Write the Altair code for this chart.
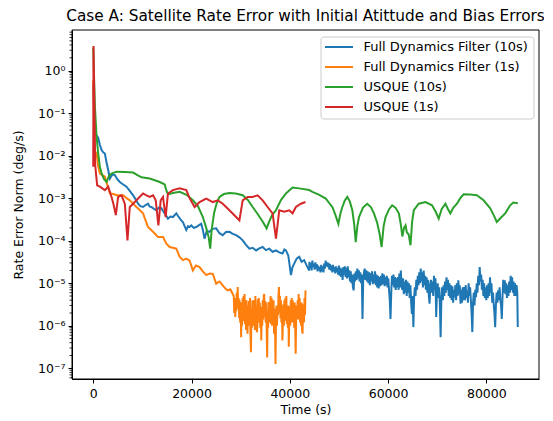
import altair as alt
import pandas as pd

TITLE = "Case A: Satellite Rate Error with Initial Atittude and Bias Errors"
X_LABEL = "Time (s)"
Y_LABEL = "Rate Error Norm (deg/s)"
SERIES = ["Full Dynamics Filter (10s)", "Full Dynamics Filter (1s)", "USQUE (10s)", "USQUE (1s)"]
COLORS = ["#1f77b4", "#ff7f0e", "#2ca02c", "#d62728"]

X_TICKS = [0, 20000, 40000, 60000, 80000]
Y_TICKS = [1e-7, 1e-6, 1e-5, 1e-4, 1e-3, 1e-2, 1e-1, 1e0]
Y_TICK_LABELS = ["10⁻⁷", "10⁻⁶", "10⁻⁵", "10⁻⁴", "10⁻³", "10⁻²", "10⁻¹", "10⁰"]
Y_MINOR_MULT = [2, 3, 4, 5, 6, 7, 8, 9]
Y_MINOR_DECADES = [1e-8, 1e-7, 1e-6, 1e-5, 1e-4, 1e-3, 1e-2, 1e-1, 1e0]

# ---- Full Dynamics Filter (10s) ----
fdf10_t = [0, 345, 700, 1014, 1350, 1700, 2030, 2370, 2700, 3040, 3390, 3900, 4400, 4900, 5410,
           6100, 6770, 7400, 8110, 8600, 9130, 9600, 10140, 10600, 11150, 11500, 11840, 12350,
           12860, 13370, 13870, 14200, 14540, 14900, 15210, 15700, 16220, 16910, 17250, 17580,
           17900, 18250, 18600, 18940, 19300, 19610, 19960, 20450, 20970, 21450, 21980, 22300,
           22650, 23100, 23670, 24300, 25020, 25700, 26360, 27000, 27720, 28400, 29080, 29750,
           30420, 31100, 31780, 32450, 33140, 33800, 34480, 35150, 35830, 36500, 37190, 37860,
           38530, 38900, 39220, 39700, 40240, 40560, 40900, 41400, 41920, 42400, 42930, 43450,
           43950,
           44000, 44150, 44300, 44450, 44600, 44750, 44900, 45050, 45200, 45350,
           45500, 45650, 45800, 45950, 46100, 46250, 46400, 46550, 46700, 46850,
           47000, 47150, 47300, 47450, 47600, 47750, 47900, 48050, 48200, 48350,
           48500, 48650, 48800, 48950, 49100, 49250, 49400, 49550, 49700, 49850,
           50000, 50150, 50300, 50450, 50600, 50750, 50900, 51050, 51200, 51350,
           51500, 51650, 51800, 51950, 52100, 52250, 52400, 52550, 52700, 52850,
           53000, 53150, 53300, 53450, 53600, 53750, 53900, 54050, 54200, 54350,
           54500, 54650, 54800, 54950, 55100, 55250, 55400, 55550, 55700, 55850,
           56000, 56150, 56300, 56450, 56600, 56750, 56900, 57050, 57200, 57350,
           57500, 57650, 57800, 57950, 58100, 58250, 58400, 58550, 58700, 58850,
           59000, 59150, 59300, 59450, 59600, 59750, 59900, 60050, 60200, 60350,
           60500, 60650, 60800, 60950, 61100, 61250, 61400, 61550, 61700, 61850,
           62000, 62150, 62300, 62450, 62600, 62750, 62900, 63050, 63200, 63350,
           63500, 63650, 63800, 63950, 64100, 64250, 64400, 64550, 64700, 64850,
           65000, 65150, 65300, 65450, 65600, 65750, 65900, 66050, 66200, 66350,
           66500, 66650, 66800, 66950, 67100, 67250, 67400, 67550, 67700, 67850,
           68000, 68150, 68300, 68450, 68600, 68750, 68900, 69050, 69200, 69350,
           69500, 69650, 69800, 69950, 70100, 70250, 70400, 70550, 70700, 70850,
           71000, 71150, 71300, 71450, 71600, 71750, 71900, 72050, 72200, 72350,
           72500, 72650, 72800, 72950, 73100, 73250, 73400, 73550, 73700, 73850,
           74000, 74150, 74300, 74450, 74600, 74750, 74900, 75050, 75200, 75350,
           75500, 75650, 75800, 75950, 76100, 76250, 76400, 76550, 76700, 76850,
           77000, 77150, 77300, 77450, 77600, 77750, 77900, 78050, 78200, 78350,
           78500, 78650, 78800, 78950, 79100, 79250, 79400, 79550, 79700, 79850,
           80000, 80150, 80300, 80450, 80600, 80750, 80900, 81050, 81200, 81350,
           81500, 81650, 81800, 81950, 82100, 82250, 82400, 82550, 82700, 82850,
           83000, 83150, 83300, 83450, 83600, 83750, 83900, 84050, 84200, 84350,
           84500, 84650, 84800, 84950, 85100, 85250, 85400, 85550, 85700, 85850,
           86000, 86150, 86300, 86400]
fdf10_v = [0.5, 0.033, 0.030, 0.026, 0.018, 0.0135, 0.012, 0.0112, 7.0e-3, 4.6e-3, 2.9e-3, 3.6e-3,
           3.5e-3, 2.8e-3, 2.4e-3, 2.1e-3, 1.86e-3, 1.5e-3, 1.17e-3, 9.5e-4, 7.4e-4, 6.5e-4, 6.2e-4,
           6.8e-4, 7.4e-4, 6.3e-4, 6.2e-4, 5.6e-4, 5.2e-4, 6.0e-4, 5.8e-4, 5.0e-4, 4.4e-4, 3.8e-4,
           3.3e-4, 3.7e-4, 3.6e-4, 4.4e-4, 3.8e-4, 3.4e-4, 3.0e-4, 2.75e-4, 2.2e-4, 1.78e-4, 2.2e-4,
           2.1e-4, 2.3e-4, 2.0e-4, 2.1e-4, 2.3e-4, 2.5e-4, 1.8e-4, 1.12e-4, 1.7e-4, 1.62e-4, 1.9e-4,
           1.95e-4, 1.5e-4, 1.35e-4, 1.6e-4, 1.62e-4, 1.45e-4, 1.35e-4, 1.2e-4, 1.02e-4, 8.0e-5,
           6.5e-5, 6.8e-5, 5.9e-5, 6.6e-5, 7.1e-5, 6.0e-5, 6.5e-5, 5.5e-5, 5.9e-5, 5.3e-5, 5.0e-5,
           6.2e-5, 5.9e-5, 4.5e-5, 1.55e-5, 2.4e-5, 2.9e-5, 3.8e-5, 4.2e-5, 3.2e-5, 3.5e-5, 2.6e-5,
           2.0e-5,
           3.2e-5, 2.3e-5, 3.0e-5, 2.0e-5, 3.4e-5, 2.4e-5, 2.9e-5, 2.1e-5, 3.1e-5, 2.2e-5,
           2.8e-5, 1.9e-5, 2.6e-5, 2.0e-5, 2.4e-5, 1.8e-5, 2.7e-5, 1.9e-5, 2.5e-5, 1.8e-5,
           2.9e-5, 2.2e-5, 3.4e-5, 2.5e-5, 3.1e-5, 2.4e-5, 3.0e-5, 2.1e-5, 2.8e-5, 2.0e-5,
           2.6e-5, 1.8e-5, 2.7e-5, 1.9e-5, 2.4e-5, 1.7e-5, 2.5e-5, 1.8e-5, 2.3e-5, 1.6e-5,
           2.6e-5, 1.5e-5, 2.3e-5, 1.4e-5, 2.2e-5, 1.2e-5, 2.4e-5, 1.6e-5, 2.5e-5, 1.4e-5,
           2.3e-5, 1.3e-5, 2.5e-5, 1.4e-5, 2.0e-5, 1.1e-5, 1.9e-5, 1.0e-5, 1.6e-5, 8.0e-6,
           6.8e-6, 1.7e-5, 1.1e-5, 1.9e-5, 1.2e-5, 2.2e-5, 1.3e-5, 2.0e-5, 1.1e-5, 1.8e-5,
           1.0e-5, 1.6e-5, 1.45e-6, 1.2e-5, 1.8e-5, 2.2e-5, 1.2e-5, 2.0e-5, 1.1e-5, 1.9e-5,
           1.0e-5, 1.8e-5, 9.0e-6, 1.7e-5, 1.1e-5, 1.9e-5, 9.5e-6, 1.6e-5, 1.0e-5, 1.9e-5,
           9.0e-6, 1.6e-5, 8.0e-6, 1.5e-5, 7.5e-6, 1.4e-5, 8.5e-6, 1.5e-5, 9.0e-6, 1.7e-5,
           9.5e-6, 1.6e-5, 8.5e-6, 1.4e-5, 9.0e-6, 1.5e-5, 8.0e-6, 1.3e-5, 7.0e-6, 4.0e-6,
           1.45e-6, 6.0e-6, 1.5e-5, 9.0e-6, 1.6e-5, 8.0e-6, 1.4e-5, 7.0e-6, 1.3e-5, 8.0e-6,
           1.4e-5, 7.0e-6, 1.7e-5, 8.0e-6, 2.0e-5, 9.0e-6, 7.0e-6, 1.3e-5, 5.5e-6, 1.1e-5,
           6.0e-6, 1.2e-5, 5.0e-6, 1.1e-5, 6.0e-6, 1.0e-5, 4.5e-6, 9.0e-6, 3.5e-6, 1.9e-6,
           5.0e-6, 9.3e-7, 4.5e-6, 8.0e-6, 5.0e-6, 1.2e-5, 7.0e-6, 1.5e-5, 9.0e-6, 1.8e-5,
           1.0e-5, 2.2e-5, 1.1e-5, 1.8e-5, 8.0e-6, 2.0e-5, 9.0e-6, 1.5e-5, 7.0e-6, 1.38e-5,
           6.0e-6, 1.2e-5, 5.0e-6, 3.3e-6, 9.0e-6, 1.2e-5, 6.0e-6, 1.1e-5, 5.0e-6, 1.5e-5,
           7.0e-6, 1.3e-5, 1.6e-6, 6.0e-6, 1.0e-5, 4.5e-6, 8.0e-6, 3.0e-6, 5.4e-7, 4.0e-6,
           8.0e-6, 4.0e-6, 9.0e-6, 5.0e-6, 1.1e-5, 6.0e-6, 1.38e-5, 7.0e-6, 1.2e-5, 5.0e-6,
           1.0e-5, 4.5e-6, 9.0e-6, 4.0e-6, 8.5e-6, 3.5e-6, 7.0e-6, 4.7e-6, 9.0e-6, 4.0e-6,
           1.0e-5, 5.0e-6, 1.17e-5, 5.5e-6, 9.0e-6, 3.3e-6, 7.0e-6, 3.5e-6, 8.0e-6, 4.0e-6,
           8.1e-6, 4.0e-6, 9.0e-6, 4.5e-6, 6.8e-6, 3.5e-6, 1.0e-5, 5.0e-6, 8.0e-6, 4.0e-6,
           2.0e-6, 7.1e-7, 3.5e-6, 6.0e-6, 3.0e-6, 7.0e-6, 4.7e-6, 1.0e-5, 6.0e-6, 1.5e-5,
           9.0e-6, 2.4e-5, 1.1e-5, 1.6e-5, 7.0e-6, 1.2e-5, 5.0e-6, 1.0e-5, 4.5e-6, 8.0e-6,
           4.0e-6, 9.0e-6, 4.5e-6, 1.0e-5, 5.0e-6, 1.38e-5, 6.0e-6, 1.0e-5, 3.5e-6, 6.0e-6,
           3.3e-6, 2.0e-6, 9.3e-7, 3.0e-6, 6.0e-6, 3.5e-6, 6.8e-6, 4.0e-6, 8.0e-6, 4.0e-6,
           3.0e-6, 1.45e-6, 5.0e-6, 1.2e-5, 6.0e-6, 1.17e-5, 5.5e-6, 1.0e-5, 4.5e-6, 8.9e-6,
           5.0e-6, 1.1e-5, 6.0e-6, 1.5e-5, 7.0e-6, 1.38e-5, 6.0e-6, 1.1e-5, 5.0e-6, 1.0e-5,
           5.0e-6, 9.0e-6, 6.0e-6, 9.3e-7]

# ---- Full Dynamics Filter (1s) ----
fdf1_t = [0, 300, 700, 1014, 1360, 2370, 2900, 3390, 4100, 4750, 6080, 6800, 7440, 8100, 8800,
          9500, 10140, 10650, 11150, 12170, 12700, 13180, 14200, 14890, 15550, 16200, 16910, 17580,
          18250, 18940, 19610, 20280, 20900, 21640, 22300, 23000, 23700, 24340, 25020, 25700, 26360,
          26900, 27380, 27900, 28390,
          28600, 28700, 28800, 28900, 29000, 29100, 29200, 29300, 29400, 29500,
          29600, 29700, 29800, 29900, 30000, 30100, 30200, 30300, 30400, 30500,
          30600, 30700, 30800, 30900, 31000, 31100, 31200, 31300, 31400, 31500,
          31600, 31700, 31800, 31900, 32000, 32100, 32200, 32300, 32400, 32500,
          32600, 32700, 32800, 32900, 33000, 33100, 33200, 33300, 33400, 33500,
          33600, 33700, 33800, 33900, 34000, 34100, 34200, 34300, 34400, 34500,
          34600, 34700, 34800, 34900, 35000, 35100, 35200, 35300, 35400, 35500,
          35600, 35700, 35800, 35900, 36000, 36100, 36200, 36300, 36400, 36500,
          36600, 36700, 36800, 36900, 37000, 37100, 37200, 37300, 37400, 37500,
          37600, 37700, 37800, 37900, 38000, 38100, 38200, 38300, 38400, 38500,
          38600, 38700, 38800, 38900, 39000, 39100, 39200, 39300, 39400, 39500,
          39600, 39700, 39800, 39900, 40000, 40100, 40200, 40300, 40400, 40500,
          40600, 40700, 40800, 40900, 41000, 41100, 41200, 41300, 41400, 41500,
          41600, 41700, 41800, 41900, 42000, 42100, 42200, 42300, 42400, 42500,
          42600, 42700, 42800, 42900, 43000, 43100, 43200]
fdf1_v = [0.6, 0.013, 0.011, 5.5e-3, 3.8e-3, 3.2e-3, 2.0e-3, 1.29e-3, 1.25e-3, 1.17e-3, 1.17e-3,
          1.0e-3, 8.9e-4, 7.5e-4, 6.2e-4, 5.2e-4, 4.4e-4, 3.0e-4, 2.1e-4, 1.62e-4, 1.4e-4, 1.23e-4,
          1.23e-4, 8.5e-5, 7.1e-5, 6.8e-5, 6.5e-5, 4.2e-5, 3.5e-5, 3.8e-5, 3.4e-5, 2.0e-5, 2.6e-5,
          2.4e-5, 1.9e-5, 1.55e-5, 1.7e-5, 1.66e-5, 9.8e-6, 1.1e-5, 8.9e-6, 7.5e-6, 6.8e-6, 7.2e-6,
          5.6e-6,
          5.0e-6, 2.0e-6, 4.5e-6, 1.6e-6, 3.5e-6, 2.2e-6, 6.0e-6, 2.5e-6, 8.1e-6, 3.0e-6,
          4.5e-6, 1.5e-6, 4.0e-6, 1.2e-6, 3.0e-6, 5.4e-7, 3.5e-6, 1.0e-6, 4.5e-6, 1.5e-6,
          5.0e-6, 1.3e-6, 5.6e-6, 1.1e-6, 3.2e-6, 8.0e-7, 4.0e-6, 1.5e-6, 6.5e-7, 3.0e-6,
          1.0e-6, 3.8e-6, 1.1e-6, 4.5e-6, 6.0e-7, 2.4e-7, 2.5e-6, 9.0e-7, 4.0e-6, 1.0e-6,
          3.5e-6, 1.2e-6, 4.0e-6, 8.0e-7, 5.0e-6, 1.5e-6, 3.0e-6, 7.0e-7, 9.3e-7, 4.2e-6,
          1.3e-6, 4.5e-6, 1.2e-6, 3.5e-6, 9.0e-7, 2.8e-6, 4.5e-7, 2.8e-6, 1.0e-6, 4.0e-6,
          1.4e-6, 5.0e-6, 5.6e-6, 1.6e-6, 3.8e-6, 1.2e-6, 3.5e-6, 8.0e-7, 1.8e-7, 2.2e-6,
          9.0e-7, 3.6e-6, 1.2e-6, 3.0e-6, 2.3e-6, 5.0e-6, 1.1e-6, 4.5e-6, 1.0e-6, 3.5e-6,
          1.0e-6, 4.0e-6, 6.5e-7, 2.5e-6, 1.0e-6, 1.26e-7, 1.5e-6, 3.0e-6, 1.0e-6, 2.5e-6,
          1.8e-6, 5.0e-6, 8.1e-6, 2.0e-6, 5.0e-6, 1.5e-6, 4.0e-6, 1.2e-6, 3.0e-6, 4.5e-7,
          1.2e-6, 3.2e-6, 1.0e-6, 4.0e-6, 1.32e-6, 4.5e-6, 1.6e-6, 5.0e-6, 1.1e-6, 3.0e-6,
          9.0e-7, 3.0e-6, 3.2e-7, 1.5e-6, 2.8e-6, 1.0e-6, 4.0e-6, 1.5e-6, 4.5e-6, 1.2e-6,
          4.0e-6, 1.2e-6, 3.5e-6, 9.0e-7, 3.5e-6, 1.0e-6, 2.2e-7, 1.5e-6, 3.0e-6, 1.4e-6,
          4.0e-6, 1.4e-6, 5.6e-6, 1.5e-6, 4.5e-6, 1.2e-6, 3.5e-6, 1.0e-6, 3.5e-6, 8.0e-7,
          6.5e-7, 2.5e-6, 3.2e-6, 1.2e-6, 4.5e-6, 1.8e-6, 6.8e-6]

# ---- USQUE (10s) ----
usq10_t = [0, 345, 690, 1014, 1350, 1700, 2200, 2720, 3200, 3730, 4750, 6500, 8110, 9000, 9820,
           11500, 13530, 14540, 14900, 15210, 16220, 17580, 19000, 20280, 21300, 22310, 23000, 23500,
           23810, 24100, 24600, 25100, 25700, 26600, 27730, 29000, 30420, 31500, 32450, 33500, 34500,
           35290, 35800, 36400, 37190, 38200, 39220, 40560, 41920, 43950, 44620, 46000, 47330, 48100,
           48670, 49300, 49890, 50300, 50700, 51200, 51710, 52200, 52730, 53100, 53420, 53750, 54090,
           54900, 55770, 56500, 57130, 57800, 58300, 58690, 59100, 59500, 60200, 60840, 61500, 62200,
           62600, 62910, 63250, 63560, 63820, 64200, 64570, 64900, 65240, 66250, 67610, 68950, 69700,
           70310, 70900, 71670, 72200, 72680, 73300, 74020, 74700, 75380, 76700, 78080, 79440, 80800,
           81500, 82130, 83000, 83840, 84850, 85500, 86400]
usq10_v = [3.5, 0.141, 0.0275, 0.0112, 5.5e-3, 3.8e-3, 2.8e-3, 2.4e-3, 3.3e-3, 3.8e-3, 4.2e-3,
           4.1e-3, 4.0e-3, 3.5e-3, 3.1e-3, 2.9e-3, 2.4e-3, 2.1e-3, 1.5e-3, 1.23e-3, 1.32e-3, 1.41e-3,
           1.2e-3, 8.9e-4, 6.5e-4, 3.6e-4, 2.0e-4, 1.2e-4, 6.5e-5, 1.8e-4, 4.5e-4, 7.5e-4, 1.07e-3,
           1.25e-3, 1.32e-3, 1.28e-3, 1.17e-3, 9.0e-4, 6.2e-4, 4.2e-4, 2.8e-4, 1.95e-4, 2.8e-4,
           4.0e-4, 5.2e-4, 9.0e-4, 1.29e-3, 1.78e-3, 1.70e-3, 1.55e-3, 1.41e-3, 1.2e-3, 9.8e-4,
           7.5e-4, 6.2e-4, 4.0e-4, 2.5e-4, 4.3e-4, 6.2e-4, 8.8e-4, 1.07e-3, 8.5e-4, 5.2e-4, 2.5e-4,
           9.3e-5, 2.2e-4, 3.6e-4, 6.0e-4, 7.4e-4, 6.2e-4, 4.4e-4, 2.6e-4, 1.4e-4, 7.1e-5, 2.2e-4,
           3.6e-4, 5.5e-4, 6.8e-4, 6.0e-4, 4.4e-4, 2.4e-4, 1.26e-4, 2.0e-4, 2.3e-4, 1.58e-4, 1.4e-4,
           7.8e-5, 2.8e-4, 5.2e-4, 7.4e-4, 8.1e-4, 6.8e-4, 4.8e-4, 3.3e-4, 5.5e-4, 7.4e-4, 5.5e-4,
           4.4e-4, 6.0e-4, 7.4e-4, 1.0e-3, 1.23e-3, 1.22e-3, 1.17e-3, 8.9e-4, 5.8e-4, 4.0e-4,
           2.75e-4, 3.5e-4, 4.4e-4, 6.8e-4, 7.9e-4, 7.6e-4]

# ---- USQUE (1s) ----
usq1_t = [0, 60, 400, 800, 1360, 2370, 3040, 3730, 4100, 4600, 5070, 5760, 6430, 6970, 7440, 8110,
          9130, 10140, 10830, 11500, 12180, 12720, 13260, 13730, 14200, 14740, 15210, 16220, 17580,
          18940, 19610, 20630, 21640, 23000, 24340, 25350, 26360, 27720, 29080, 29750, 30420, 31430,
          32440, 33460, 34480, 35490, 36500, 37190, 37860, 38880, 39890, 40560, 41250, 42260, 43200]
usq1_v = [5.5e-3, 3.8, 6.0e-3, 2.0e-3, 1.86e-3, 1.55e-3, 1.86e-3, 1.07e-3, 7.4e-4, 4.0e-4, 1.07e-3,
          1.17e-3, 7.4e-4, 1.02e-4, 6.2e-4, 7.4e-4, 9.8e-4, 1.29e-3, 1.17e-3, 1.07e-3, 1.17e-3, 8.9e-4,
          2.3e-4, 8.9e-4, 1.07e-3, 3.6e-4, 1.29e-3, 1.55e-3, 1.70e-3, 1.55e-3, 1.0e-3, 6.2e-4, 8.1e-4,
          9.8e-4, 8.1e-4, 8.9e-4, 7.4e-4, 5.2e-4, 3.6e-4, 3.0e-4, 8.9e-4, 1.07e-3, 1.07e-3, 1.17e-3,
          8.9e-4, 6.2e-4, 4.4e-4, 1.12e-4, 5.2e-4, 4.8e-4, 5.2e-4, 4.4e-4, 6.2e-4, 7.4e-4, 8.1e-4]

SERIES_T = [fdf10_t, fdf1_t, usq10_t, usq1_t]
SERIES_V = [fdf10_v, fdf1_v, usq10_v, usq1_v]

FONT = "DejaVu Sans"
W, H = 467, 349

label_expr = ""
for v, lab in zip(Y_TICKS, Y_TICK_LABELS):
    label_expr += f"datum.value < {v * 3} ? '{lab}' : "
label_expr += "''"

x_scale = alt.Scale(domain=[-4320, 90720], nice=False, zero=False)
y_scale = alt.Scale(type="log", domain=[5.6e-8, 9.0], nice=False)

x_axis = alt.Axis(values=X_TICKS, format="d", title=X_LABEL, grid=False, tickSize=4,
                  tickColor="black", domainColor="black", labelColor="black", labelFontSize=12.5,
                  labelFont=FONT, titleFont=FONT, titleFontSize=12.5, titleFontWeight="normal",
                  titleColor="black", labelPadding=4, titleX=W / 2, titleY=30,
                  titleBaseline="middle", titleAlign="center")
y_axis = alt.Axis(values=Y_TICKS, labelExpr=label_expr, title=Y_LABEL, grid=False, tickSize=4,
                  tickColor="black", domainColor="black", labelColor="black", labelFontSize=12.5,
                  labelFont=FONT, titleFont=FONT, titleFontSize=12.5, titleFontWeight="normal",
                  titleColor="black", labelPadding=3, titleX=-54, titleY=H / 2,
                  titleBaseline="middle", titleAlign="center", titleAngle=270)

one = pd.DataFrame({"a": [0]})
layers = []
for name, color, ts, vs in zip(SERIES, COLORS, SERIES_T, SERIES_V):
    df = pd.DataFrame({"t": ts, "v": vs, "series": name})
    layers.append(
        alt.Chart(df).mark_line(color=color, strokeWidth=2, clip=True).encode(
            x=alt.X("t:Q", scale=x_scale, axis=x_axis),
            y=alt.Y("v:Q", scale=y_scale, axis=y_axis),
        )
    )

minor_vals = [m * d for d in Y_MINOR_DECADES for m in Y_MINOR_MULT if 5.6e-8 < m * d < 9.0]
minor = alt.Chart(pd.DataFrame({"v": minor_vals})).mark_rule(color="black", strokeWidth=0.8).encode(
    x=alt.value(-2.5), x2=alt.value(0),
    y=alt.Y("v:Q", scale=y_scale, axis=y_axis),
)
layers.append(minor)

# frame (all four spines)
layers.append(
    alt.Chart(one).mark_rect(fillOpacity=0, stroke="black", strokeWidth=1).encode(
        x=alt.value(0), x2=alt.value(W), y=alt.value(0), y2=alt.value(H)
    )
)

# title
layers.append(
    alt.Chart(one).mark_text(
        align="center", baseline="alphabetic", fontSize=15.3, font=FONT, color="black"
    ).encode(x=alt.value(W / 2), y=alt.value(-9), text=alt.value(TITLE))
)

# legend (upper right, drawn as marks)
LEG_X0, LEG_X1, LEG_Y0, LEG_Y1 = 249, 462, 7, 89
layers.append(
    alt.Chart(one).mark_rect(
        fill="white", fillOpacity=0.8, stroke="#cccccc", strokeWidth=1, cornerRadius=3
    ).encode(x=alt.value(LEG_X0), x2=alt.value(LEG_X1), y=alt.value(LEG_Y0), y2=alt.value(LEG_Y1))
)
for i, (name, color) in enumerate(zip(SERIES, COLORS)):
    yy = 17 + 20 * i
    layers.append(
        alt.Chart(one).mark_rule(color=color, strokeWidth=2).encode(
            x=alt.value(253), x2=alt.value(281), y=alt.value(yy)
        )
    )
    layers.append(
        alt.Chart(one).mark_text(
            align="left", baseline="middle", fontSize=13, font=FONT, color="black"
        ).encode(x=alt.value(291.5), y=alt.value(yy), text=alt.value(name))
    )

chart = alt.layer(*layers).properties(
    width=W, height=H,
    autosize=alt.AutoSizeParams(type="none"),
    padding={"left": 64, "top": 22, "right": 5, "bottom": 37},
).configure(background="white").configure_view(stroke=None)

chart.save("out.html", embed_options={"renderer": "svg", "actions": False})
